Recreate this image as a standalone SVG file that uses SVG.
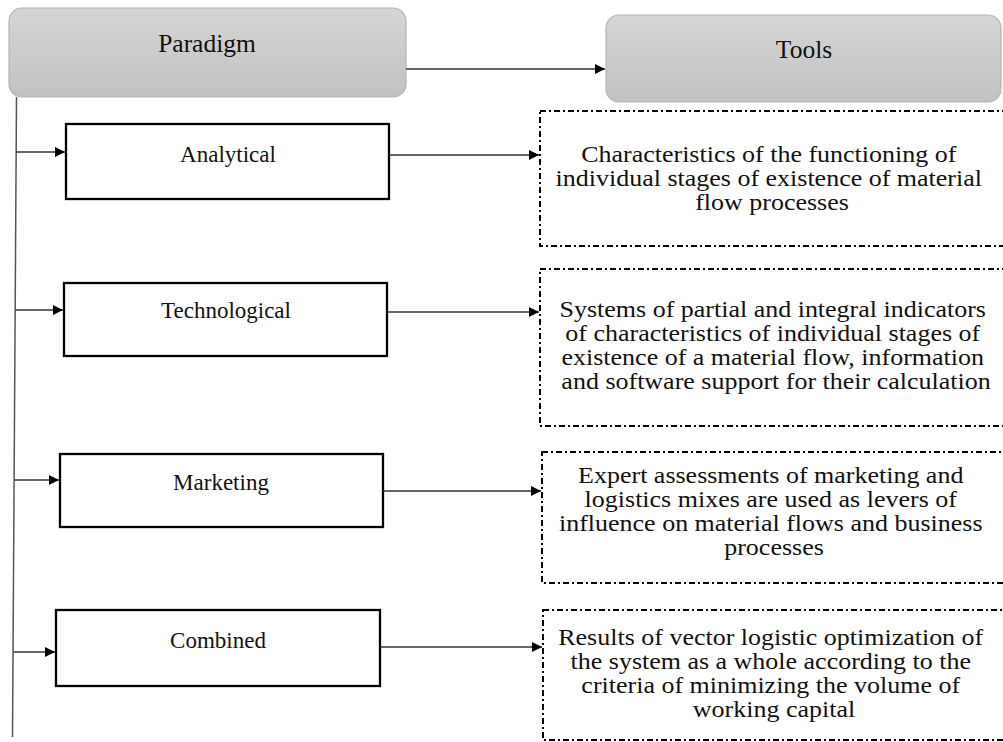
<svg xmlns="http://www.w3.org/2000/svg" width="1003" height="742" viewBox="0 0 1003 742">
  <defs>
    <linearGradient id="headFill" x1="0" y1="0" x2="0" y2="1">
      <stop offset="0" stop-color="#d5d5d5"/>
      <stop offset="1" stop-color="#c2c2c2"/>
    </linearGradient>
    <marker id="arrow" viewBox="0 0 10 10" refX="10" refY="5" markerWidth="11" markerHeight="10" markerUnits="userSpaceOnUse" orient="auto">
      <path d="M0,0 L10,5 L0,10 Z" fill="#000"/>
    </marker>
    <style>
      text { font-family: 'Liberation Serif', 'DejaVu Serif', serif; fill: #111; text-anchor: middle; }
      .head { fill: url(#headFill); stroke: #b4b4b4; stroke-width: 1.2; }
      .head-label { font-size: 25.5px; }
      .node { fill: #fff; stroke: #000; stroke-width: 2.3; }
      .node-label { font-size: 23px; }
      .tool { fill: #fff; stroke: #000; stroke-width: 2; stroke-dasharray: 6 3 2 3; }
      .tool-label { font-size: 23px; }
      .link { fill: none; stroke: #333; stroke-width: 1.4; marker-end: url(#arrow); }
      .trunk { fill: none; stroke: #555; stroke-width: 1.5; }
    </style>
  </defs>

  <rect width="1003" height="742" fill="#fff"/>

  <!-- header nodes -->
  <g id="paradigm">
    <rect class="head" x="9" y="8" width="397" height="89" rx="13"/>
    <text class="head-label" x="207" y="52">Paradigm</text>
  </g>
  <g id="tools">
    <rect class="head" x="606" y="15" width="395" height="87" rx="13"/>
    <text class="head-label" x="804" y="58">Tools</text>
  </g>

  <!-- paradigm types -->
  <g id="analytical">
    <rect class="node" x="66" y="124" width="323" height="75"/>
    <text class="node-label" x="228" y="162">Analytical</text>
  </g>
  <g id="technological">
    <rect class="node" x="64" y="283" width="323" height="73"/>
    <text class="node-label" x="226" y="318">Technological</text>
  </g>
  <g id="marketing">
    <rect class="node" x="60" y="454" width="323" height="73"/>
    <text class="node-label" x="221" y="490">Marketing</text>
  </g>
  <g id="combined">
    <rect class="node" x="56" y="610" width="324" height="76"/>
    <text class="node-label" x="218" y="648">Combined</text>
  </g>

  <!-- tool descriptions (text slightly widened, centred on x = 772) -->
  <g id="tool-analytical">
    <rect class="tool" x="540" y="111" width="480" height="135"/>
    <g transform="translate(772,0) scale(1.13,1)">
      <text class="tool-label">
        <tspan x="0" y="162">Characteristics of the functioning of</tspan>
        <tspan x="0" y="186">individual stages of existence of material</tspan>
        <tspan x="0" y="210">flow processes</tspan>
      </text>
    </g>
  </g>
  <g id="tool-technological">
    <rect class="tool" x="540" y="269" width="480" height="157"/>
    <g transform="translate(776,0) scale(1.13,1)">
      <text class="tool-label">
        <tspan x="0" y="317">Systems of partial and integral indicators</tspan>
        <tspan x="0" y="341">of characteristics of individual stages of</tspan>
        <tspan x="0" y="365">existence of a material flow, information</tspan>
        <tspan x="0" y="389">and software support for their calculation</tspan>
      </text>
    </g>
  </g>
  <g id="tool-marketing">
    <rect class="tool" x="542" y="452" width="480" height="131"/>
    <g transform="translate(774,0) scale(1.13,1)">
      <text class="tool-label">
        <tspan x="0" y="483">Expert assessments of marketing and</tspan>
        <tspan x="0" y="507">logistics mixes are used as levers of</tspan>
        <tspan x="0" y="531">influence on material flows and business</tspan>
        <tspan x="0" y="555">processes</tspan>
      </text>
    </g>
  </g>
  <g id="tool-combined">
    <rect class="tool" x="543" y="610" width="480" height="130"/>
    <g transform="translate(774,0) scale(1.13,1)">
      <text class="tool-label">
        <tspan x="0" y="645">Results of vector logistic optimization of</tspan>
        <tspan x="0" y="669">the system as a whole according to the</tspan>
        <tspan x="0" y="693">criteria of minimizing the volume of</tspan>
        <tspan x="0" y="717">working capital</tspan>
      </text>
    </g>
  </g>

  <!-- connectors -->
  <g id="connectors">
    <path class="link" d="M406,69 H605"/>
    <path class="trunk" d="M16.5,97 L12.5,737"/>
    <path class="link" d="M15.9,152 H65"/>
    <path class="link" d="M15.2,310 H63"/>
    <path class="link" d="M14.5,480 H59"/>
    <path class="link" d="M13.6,652 H55"/>
    <path class="link" d="M389,155 H539"/>
    <path class="link" d="M387,312 H539"/>
    <path class="link" d="M383,491 H541"/>
    <path class="link" d="M380,647 H542"/>
  </g>
</svg>
